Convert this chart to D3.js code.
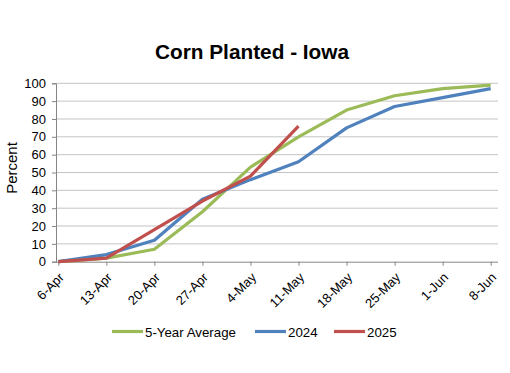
<!DOCTYPE html>
<html><head><meta charset="utf-8">
<script src="https://cdn.jsdelivr.net/npm/d3@7"></script>
<style>body{margin:0;background:#fff}svg{display:block;font-family:"Liberation Sans",Arial,sans-serif}</style>
</head><body><svg id="c" width="510" height="373"></svg>
<script>
const categories = ["6-Apr","13-Apr","20-Apr","27-Apr","4-May","11-May","18-May","25-May","1-Jun","8-Jun"];
const avg5 = [0,2,7,28,53,70,85,93,97,99];
const y2024 = [0,4,12,35,46,56,75,87,92,97];
const y2025 = [0,2,18,34,48,76];
const yTicks = [0,10,20,30,40,50,60,70,80,90,100];
const seriesNames = ["5-Year Average","2024","2025"];
const colors = ["#9bbb59","#4f81bd","#c0504d"];

(function(){
const svg = d3.select("#c");
const pLeft = 56, pRight = 498, pTop = 83.3, pBottom = 261.7;
const x = d3.scaleLinear().domain([0, categories.length-1]).range([58.3, 490.7]);
const y = d3.scaleLinear().domain([0,100]).range([pBottom, pTop]);

svg.append("text").attr("x",252).attr("y",59).attr("text-anchor","middle")
  .attr("font-size",20.8).attr("font-weight","bold").text("Corn Planted - Iowa");

svg.append("g").selectAll("line").data(yTicks.filter(d=>d>0)).join("line")
  .attr("x1",pLeft).attr("x2",pRight).attr("y1",d=>y(d)).attr("y2",d=>y(d))
  .attr("stroke","#c4c4c4").attr("stroke-width",1);

const ya = svg.append("g").attr("transform",`translate(${pLeft},0)`)
  .call(d3.axisLeft(y).tickValues(yTicks).tickSize(4).tickPadding(6));
ya.select(".domain").attr("stroke","#868686");
ya.selectAll(".tick line").attr("stroke","#868686");
ya.selectAll("text").attr("font-size",13).attr("fill","#000").attr("font-family","Liberation Sans, Arial, sans-serif");

const xa = svg.append("g").attr("transform",`translate(0,${pBottom})`)
  .call(d3.axisBottom(x).tickValues(d3.range(categories.length)).tickFormat(i=>categories[i]).tickSize(4).tickSizeOuter(0));
xa.select(".domain").attr("d",`M${pLeft},0.5H${pRight}`).attr("stroke","#868686");
xa.selectAll(".tick line").attr("stroke","#868686");
xa.selectAll("text").attr("font-size",13).attr("fill","#000").attr("font-family","Liberation Sans, Arial, sans-serif")
  .attr("text-anchor","end").attr("dy",null).attr("y",0)
  .attr("transform","translate(6,16.5) rotate(-45)");

svg.append("text").attr("transform","translate(17,168) rotate(-90)").attr("text-anchor","middle")
  .attr("font-size",15).text("Percent");

const line = d3.line().x((d,i)=>x(i)).y(d=>y(d));
[avg5,y2024,y2025].forEach((s,k)=>{
  svg.append("path").datum(s).attr("d",line).attr("fill","none")
    .attr("stroke",colors[k]).attr("stroke-width",3.2).attr("stroke-linejoin","round");
});

const legX = [112,255,334];
const lg = svg.append("g");
seriesNames.forEach((n,k)=>{
  lg.append("line").attr("x1",legX[k]).attr("x2",legX[k]+31).attr("y1",331.5).attr("y2",331.5)
    .attr("stroke",colors[k]).attr("stroke-width",3.2);
  lg.append("text").attr("x",legX[k]+33).attr("y",336.5).attr("font-size",13.3).text(n);
});
})();
</script></body></html>
